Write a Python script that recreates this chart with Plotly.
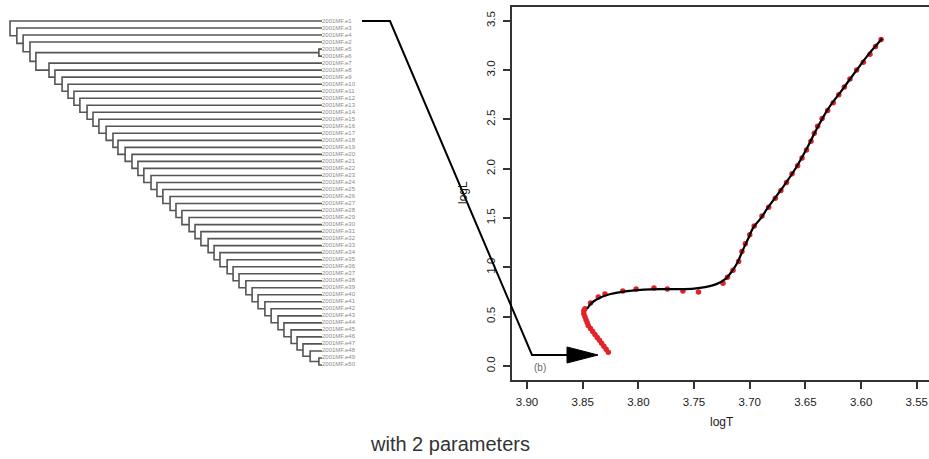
import plotly.graph_objects as go

W, H = 929, 459

# ---------------- dendrogram data ----------------
leaf_labels = [
    "2001MF.e1", "2001MF.e3", "2001MF.e4", "2001MF.e2", "2001MF.e5",
    "2001MF.e6", "2001MF.e7", "2001MF.e8", "2001MF.e9", "2001MF.e10",
    "2001MF.e11", "2001MF.e12", "2001MF.e13", "2001MF.e14", "2001MF.e15",
    "2001MF.e16", "2001MF.e17", "2001MF.e18", "2001MF.e19", "2001MF.e20",
    "2001MF.e21", "2001MF.e22", "2001MF.e23", "2001MF.e24", "2001MF.e25",
    "2001MF.e26", "2001MF.e27", "2001MF.e28", "2001MF.e29", "2001MF.e30",
    "2001MF.e31", "2001MF.e32", "2001MF.e33", "2001MF.e34", "2001MF.e35",
    "2001MF.e36", "2001MF.e37", "2001MF.e38", "2001MF.e39", "2001MF.e40",
    "2001MF.e41", "2001MF.e42", "2001MF.e43", "2001MF.e44", "2001MF.e45",
    "2001MF.e46", "2001MF.e47", "2001MF.e48", "2001MF.e49", "2001MF.e50",
]
# merge heights of the ladder nodes, top to bottom
ladder_heights = [
    1.000, 0.978, 0.958, 0.936, 0.917, 0.875, 0.856, 0.833, 0.814, 0.795,
    0.776, 0.753, 0.734, 0.715, 0.692, 0.670, 0.654, 0.631, 0.609, 0.590,
    0.571, 0.548, 0.529, 0.510, 0.487, 0.468, 0.449, 0.426, 0.407, 0.388,
    0.365, 0.346, 0.327, 0.304, 0.285, 0.266, 0.244, 0.224, 0.205, 0.183,
    0.163, 0.141, 0.122, 0.099, 0.080, 0.061, 0.038,
]
# heights of the two tight pairs (e5,e6) and (e49,e50)
pair_heights = [0.010, 0.010]

# ---------------- HR-diagram data ----------------
obs_logT = [
    3.827, 3.829, 3.831, 3.833, 3.835, 3.837, 3.839, 3.841, 3.843, 3.845,
    3.846, 3.847, 3.848, 3.849, 3.849, 3.848, 3.843, 3.836, 3.830, 3.814,
    3.802, 3.786, 3.774, 3.760, 3.746, 3.724, 3.720, 3.715, 3.710, 3.707,
    3.704, 3.700, 3.696, 3.689, 3.683, 3.677, 3.672, 3.667, 3.662, 3.657,
    3.653, 3.649, 3.645, 3.642, 3.639, 3.635, 3.630, 3.625, 3.620, 3.615,
    3.610, 3.604, 3.598, 3.592, 3.587, 3.582,
]
obs_logL = [
    0.14, 0.17, 0.20, 0.23, 0.26, 0.29, 0.32, 0.35, 0.38, 0.41,
    0.44, 0.47, 0.50, 0.53, 0.56, 0.58, 0.64, 0.70, 0.73, 0.76,
    0.78, 0.79, 0.78, 0.76, 0.75, 0.84, 0.90, 0.97, 1.06, 1.16,
    1.24, 1.33, 1.42, 1.52, 1.61, 1.70, 1.78, 1.86, 1.95, 2.03,
    2.11, 2.19, 2.28, 2.36, 2.43, 2.51, 2.59, 2.67, 2.75, 2.83,
    2.91, 3.00, 3.08, 3.16, 3.24, 3.31,
]
fit_logT = [
    3.846, 3.842, 3.835, 3.825, 3.810, 3.795, 3.780, 3.765, 3.750, 3.740,
    3.730, 3.722, 3.716, 3.711, 3.706, 3.701, 3.697, 3.690, 3.684, 3.671,
    3.659, 3.649, 3.640, 3.630, 3.617, 3.604, 3.594, 3.581,
]
fit_logL = [
    0.58, 0.64, 0.69, 0.73, 0.76, 0.775, 0.78, 0.78, 0.785, 0.80,
    0.83, 0.88, 0.96, 1.05, 1.18, 1.30, 1.40, 1.50, 1.60, 1.80,
    2.00, 2.20, 2.40, 2.60, 2.80, 3.00, 3.15, 3.32,
]
x_ticks = [3.90, 3.85, 3.80, 3.75, 3.70, 3.65, 3.60, 3.55]
y_ticks = [0.0, 0.5, 1.0, 1.5, 2.0, 2.5, 3.0, 3.5]

# ---------------- build dendrogram geometry ----------------
n = len(leaf_labels)
nodes = []
for i in range(n):
    nodes.append({"h": 0.0, "y": i + 1})

seg_x, seg_y = [], []


def join(a, b, h):
    na, nb = nodes[a], nodes[b]
    seg_x.extend([na["h"], h, h, nb["h"], None])
    seg_y.extend([na["y"], na["y"], nb["y"], nb["y"], None])
    nodes.append({"h": h, "y": (na["y"] + nb["y"]) / 2})
    return len(nodes) - 1


pairA = join(4, 5, pair_heights[0])
pairB = join(48, 49, pair_heights[1])
tops = [0, 1, 2, 3, pairA] + list(range(6, 48))
sub = pairB
for j in reversed(range(len(tops))):
    sub = join(tops[j], sub, ladder_heights[j])

fig = go.Figure()

fig.add_trace(go.Scatter(
    x=seg_x, y=seg_y, mode="lines", xaxis="x2", yaxis="y2",
    line=dict(color="#555555", width=1.6), hoverinfo="skip", showlegend=False))
fig.add_trace(go.Scatter(
    x=[0.0] * n, y=list(range(1, n + 1)), mode="text", text=leaf_labels,
    textposition="middle right", xaxis="x2", yaxis="y2", cliponaxis=False,
    textfont=dict(family="Liberation Sans", size=6, color="#8a8a8a"),
    hoverinfo="skip", showlegend=False))

fig.add_trace(go.Scatter(
    x=obs_logT, y=obs_logL, mode="markers",
    marker=dict(color="#e3222a", size=5.5), showlegend=False))
fig.add_trace(go.Scatter(
    x=fit_logT, y=fit_logL, mode="lines", line=dict(color="black", width=2.2, shape="spline"),
    showlegend=False))


def px(x):
    return x / W


def py(y):
    return 1 - y / H


axis_font = dict(family="Liberation Sans", size=11.5, color="#1a1a1a")
fig.update_layout(
    width=W, height=H, margin=dict(l=0, r=0, t=0, b=0),
    paper_bgcolor="white", plot_bgcolor="white",
    xaxis=dict(domain=[px(512), 1.0], range=[3.9135, 3.539], showgrid=False, zeroline=False,
               showline=True, linecolor="#333", linewidth=2, mirror=True,
               ticks="outside", ticklen=7, tickwidth=1.8, tickcolor="#333",
               tickvals=x_ticks, ticktext=["%.2f" % v for v in x_ticks],
               tickfont=axis_font, ticklabelstandoff=3),
    yaxis=dict(domain=[py(380), py(7)], range=[-0.142, 3.64], showgrid=False, zeroline=False,
               showline=True, linecolor="#333", linewidth=2,
               ticks="outside", ticklen=7, tickwidth=1.8, tickcolor="#333",
               tickvals=y_ticks, ticktext=["%.1f" % v for v in y_ticks],
               tickangle=-90, tickfont=axis_font, ticklabelstandoff=3),
    xaxis2=dict(domain=[0, px(322)], range=[322 / 312, 0], visible=False, anchor="y2"),
    yaxis2=dict(domain=[0, 1], range=[1 + 438 / 7.02, 1 - 21 / 7.02], visible=False, anchor="x2"),
)

ann = [
    dict(x=px(722), y=py(422), text="logT", font=dict(family="Liberation Sans", size=12, color="#1a1a1a")),
    dict(x=px(463), y=py(193), text="logL", textangle=-90,
         font=dict(family="Liberation Sans", size=12, color="#1a1a1a")),
    dict(x=px(540), y=py(367), text="(b)", font=dict(family="Liberation Sans", size=10, color="#666")),
    dict(x=px(450), y=py(444), text="with 2 parameters",
         font=dict(family="Liberation Sans", size=20, color="#333")),
]
for a in ann:
    a.update(xref="paper", yref="paper", showarrow=False, xanchor="center", yanchor="middle")
fig.update_layout(annotations=ann)

arrow_pts = [(362, 21), (390, 21), (532, 355), (572, 355)]
path = "M " + " L ".join("%f,%f" % (px(a), py(b)) for a, b in arrow_pts)
head = [(567, 347), (598, 355), (567, 363)]
hpath = "M " + " L ".join("%f,%f" % (px(a), py(b)) for a, b in head) + " Z"
fig.update_layout(shapes=[
    dict(type="path", path=path, xref="paper", yref="paper", line=dict(color="black", width=2)),
    dict(type="path", path=hpath, xref="paper", yref="paper", line=dict(color="black", width=1),
         fillcolor="black"),
])

fig.write_html("out.html", config={"displayModeBar": False},
               post_script="document.body.style.margin='0';")
